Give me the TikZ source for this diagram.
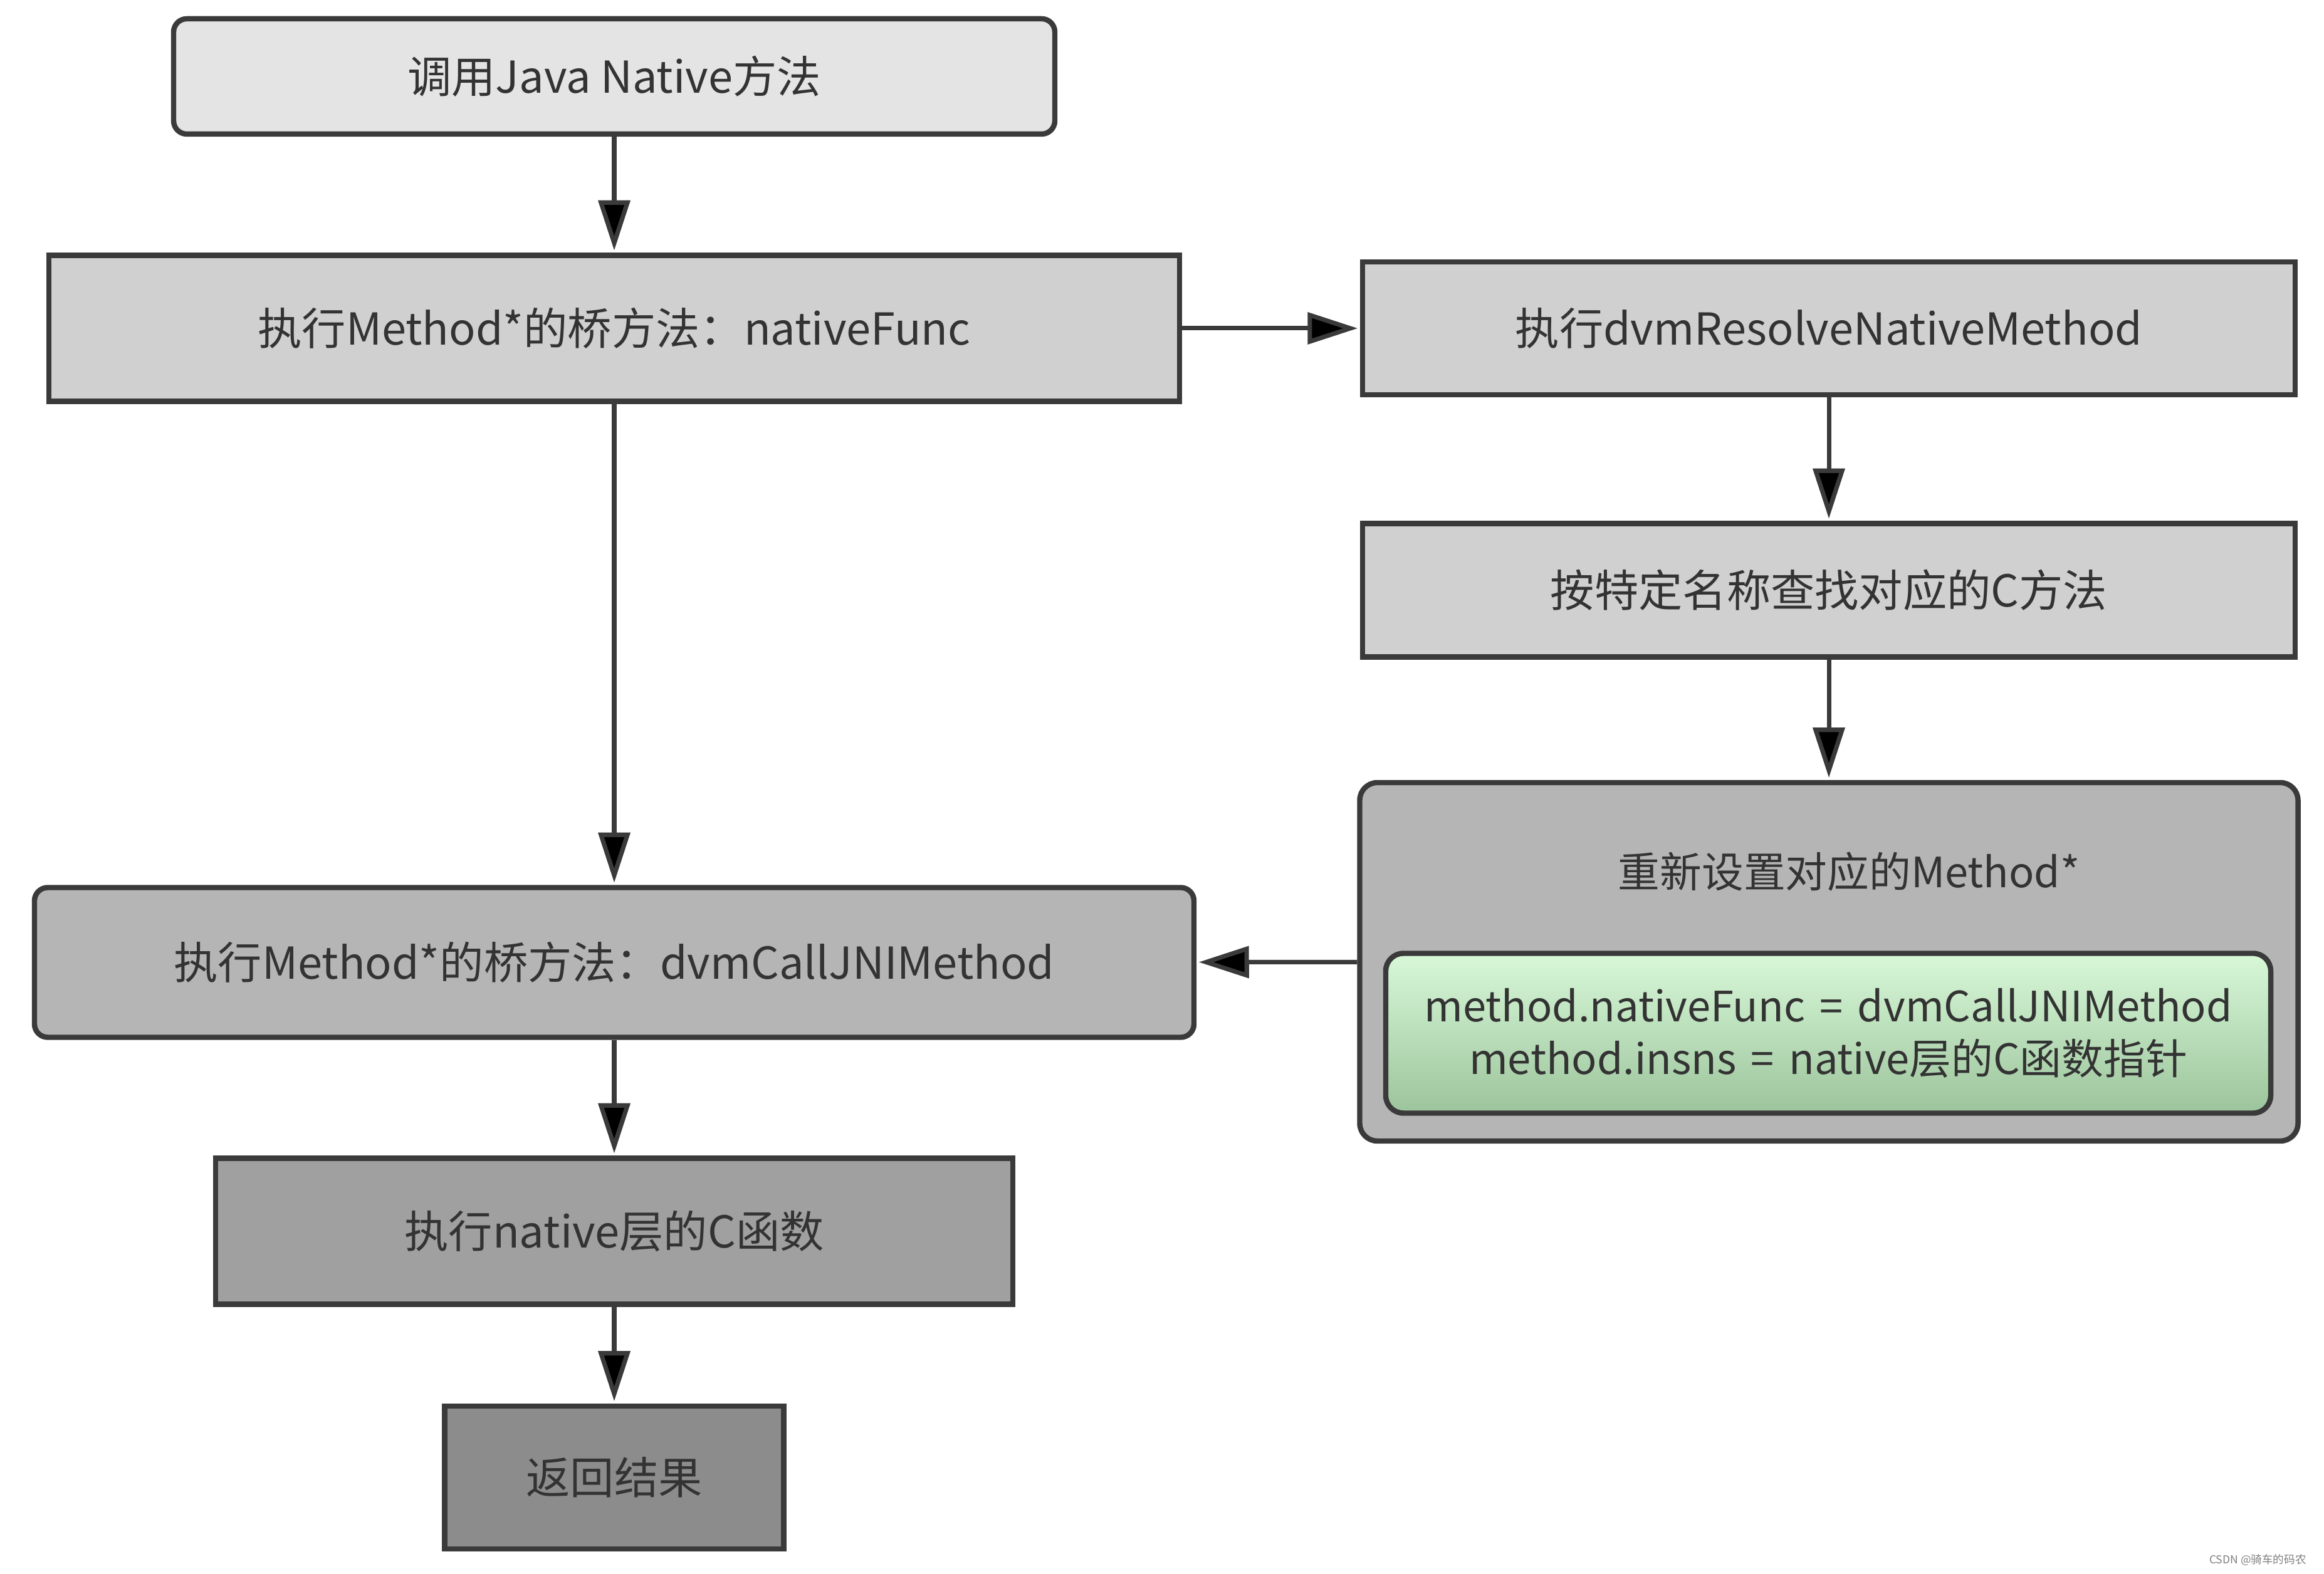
\documentclass[tikz,border=0pt]{standalone}
\usepackage{fontspec}
\setmainfont{Noto Sans CJK SC}
\usepackage{tikz}
\usetikzlibrary{arrows.meta,positioning}

\definecolor{linegray}{HTML}{3A3A3A}
\definecolor{textgray}{HTML}{333333}
\definecolor{fillA}{HTML}{E4E4E4}
\definecolor{fillB}{HTML}{D0D0D0}
\definecolor{fillC}{HTML}{B5B5B5}
\definecolor{fillD}{HTML}{A0A0A0}
\definecolor{fillE}{HTML}{8C8C8C}
\definecolor{greentop}{HTML}{D8F8D8}
\definecolor{greenbot}{HTML}{9CC49C}

\begin{document}
\begin{tikzpicture}[>={Triangle[length=0.8cm,width=0.5cm]},shorten >=1pt,
	block/.style={shape=rectangle,draw=linegray,line width=2.4pt,text=textgray,
		font=\fontsize{20}{30}\selectfont,inner sep=0pt,align=center},
	flow/.style={->,draw=linegray,line width=2pt}]
					\fill[white] (0,0) rectangle (37.08,25.12);
					\useasboundingbox (0,0) rectangle (37.08,25.12);

					% left column
					\node (call) [block,rounded corners=6pt,fill=fillA,minimum width=14.06cm,minimum height=1.84cm] at (9.80,23.90) {调用Java Native方法};
					\node (bridge) [block,fill=fillB,minimum width=18.04cm,minimum height=2.33cm] at (9.80,19.88) {执行Method*的桥方法：nativeFunc};
					\node (jni) [block,rounded corners=6pt,fill=fillC,minimum width=18.5cm,minimum height=2.39cm] at (9.80,9.76) {执行Method*的桥方法：dvmCallJNIMethod};
					\node (cfunc) [block,fill=fillD,minimum width=12.72cm,minimum height=2.33cm] at (9.80,5.47) {执行native层的C函数};
					\node (result) [block,fill=fillE,minimum width=5.41cm,minimum height=2.28cm] at (9.80,1.54) {返回结果};

					% right column
					\node (resolve) [block,fill=fillB,minimum width=14.88cm,minimum height=2.12cm] at (29.18,19.88) {执行dvmResolveNativeMethod};
					\node (lookup) [block,fill=fillB,minimum width=14.88cm,minimum height=2.13cm] at (29.18,15.70) {按特定名称查找对应的C方法};
					\node (reset) [block,rounded corners=8pt,fill=fillC,minimum width=14.97cm,minimum height=5.72cm] at (29.18,9.77) {};
					\node (resettitle) [text=textgray,font=\fontsize{19}{26}\selectfont] at (29.50,11.21) {重新设置对应的Method*};
					\node (assign) [block,rounded corners=8pt,top color=greentop,bottom color=greenbot,minimum width=14.12cm,minimum height=2.55cm,font=\fontsize{19}{24}\selectfont] at (29.17,8.63) {method.nativeFunc\hspace{0.35em}=\hspace{0.35em}dvmCallJNIMethod\\method.insns\hspace{0.35em}=\hspace{0.35em}native层的C函数指针};

					\node (mark) [anchor=east,text=gray,font=\fontsize{5}{6}\selectfont] at (36.92,0.22) {CSDN @骑车的码农};

					\path[flow] (call) edge (bridge)
						(bridge) edge (resolve)
						(bridge) edge (jni)
						(resolve) edge (lookup)
						(lookup) edge (reset)
						(reset) edge (jni)
						(jni) edge (cfunc)
						(cfunc) edge (result);
				\end{tikzpicture}
\end{document}
